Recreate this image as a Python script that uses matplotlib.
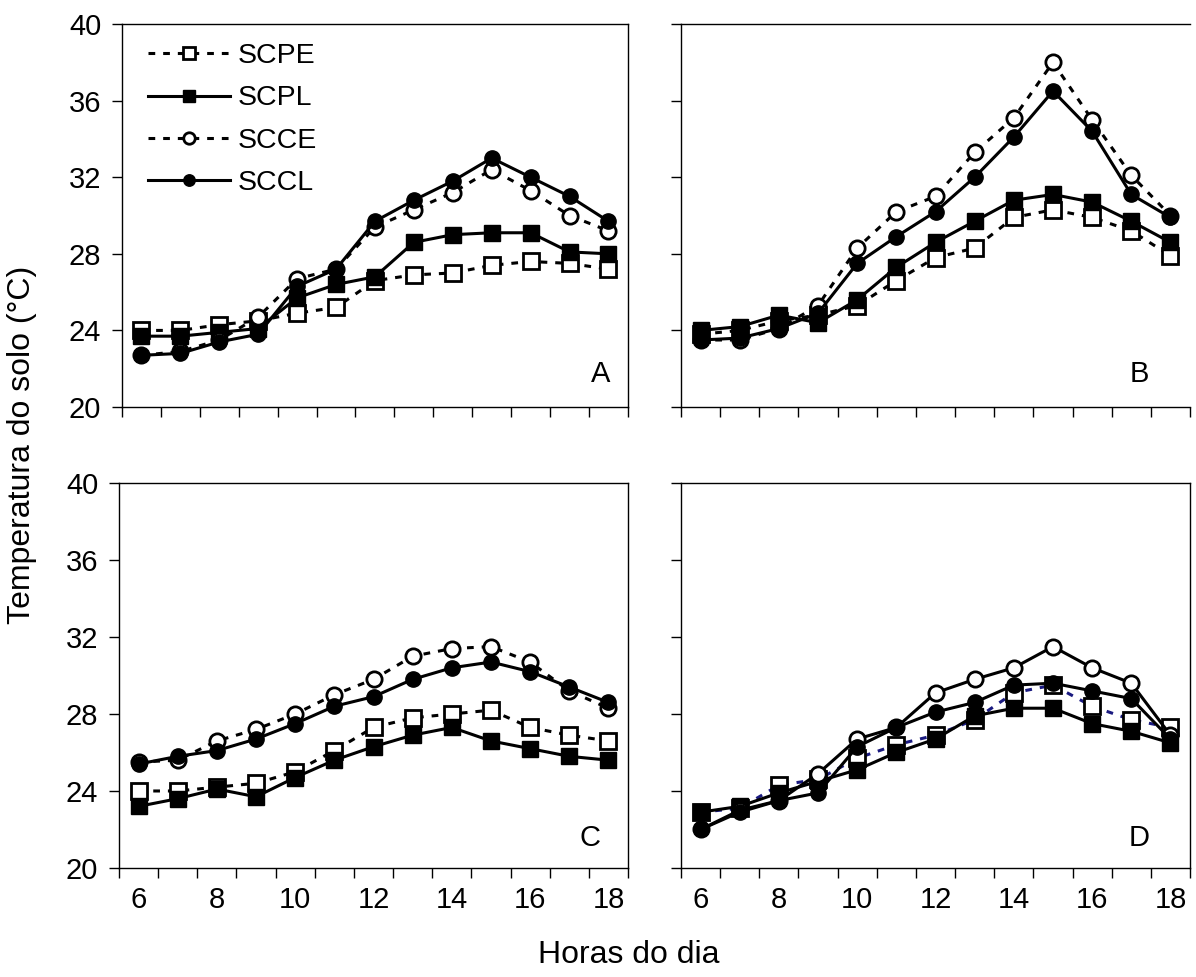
import matplotlib
matplotlib.use("Agg")
import matplotlib.pyplot as plt

plt.rcParams['font.family'] = ['Liberation Sans', 'DejaVu Sans']

horas = [6, 7, 8, 9, 10, 11, 12, 13, 14, 15, 16, 17, 18]
series_names = ["SCPE", "SCPL", "SCCE", "SCCL"]
panel_labels = ["A", "B", "C", "D"]

# panel A
a_scpe = [24.0, 24.0, 24.3, 24.5, 24.9, 25.2, 26.6, 26.9, 27.0, 27.4, 27.6, 27.5, 27.2]
a_scpl = [23.7, 23.7, 23.9, 24.1, 25.7, 26.4, 26.8, 28.6, 29.0, 29.1, 29.1, 28.1, 28.0]
a_scce = [22.7, 22.9, 23.5, 24.7, 26.7, 27.2, 29.4, 30.3, 31.2, 32.4, 31.3, 30.0, 29.2]
a_sccl = [22.7, 22.8, 23.4, 23.8, 26.3, 27.2, 29.7, 30.8, 31.8, 33.0, 32.0, 31.0, 29.7]

# panel B
b_scpe = [23.8, 24.0, 24.5, 24.8, 25.3, 26.6, 27.8, 28.3, 29.9, 30.3, 29.9, 29.2, 27.9]
b_scpl = [24.0, 24.2, 24.8, 24.4, 25.6, 27.3, 28.6, 29.7, 30.8, 31.1, 30.7, 29.7, 28.6]
b_scce = [23.5, 23.5, 24.1, 25.3, 28.3, 30.2, 31.0, 33.3, 35.1, 38.0, 35.0, 32.1, 30.0]
b_sccl = [23.5, 23.6, 24.1, 24.9, 27.5, 28.9, 30.2, 32.0, 34.1, 36.5, 34.4, 31.1, 29.9]

# panel C
c_scpe = [24.0, 24.0, 24.2, 24.4, 25.0, 26.1, 27.3, 27.8, 28.0, 28.2, 27.3, 26.9, 26.6]
c_scpl = [23.2, 23.6, 24.1, 23.7, 24.7, 25.6, 26.3, 26.9, 27.3, 26.6, 26.2, 25.8, 25.6]
c_scce = [25.5, 25.6, 26.6, 27.2, 28.0, 29.0, 29.8, 31.0, 31.4, 31.5, 30.7, 29.2, 28.3]
c_sccl = [25.4, 25.8, 26.1, 26.7, 27.5, 28.4, 28.9, 29.8, 30.4, 30.7, 30.2, 29.4, 28.6]

# panel D
d_scpe = [22.9, 23.1, 24.3, 24.6, 25.7, 26.4, 26.9, 27.7, 29.1, 29.5, 28.4, 27.7, 27.3]
d_scpl = [22.9, 23.2, 23.9, 24.5, 25.1, 26.0, 26.7, 27.9, 28.3, 28.3, 27.5, 27.1, 26.5]
d_scce = [22.0, 23.0, 23.5, 24.9, 26.7, 27.3, 29.1, 29.8, 30.4, 31.5, 30.4, 29.6, 26.9]
d_sccl = [22.0, 22.9, 23.5, 23.9, 26.3, 27.3, 28.1, 28.6, 29.5, 29.6, 29.2, 28.8, 26.7]

panels = [
    [a_scpe, a_scpl, a_scce, a_sccl],
    [b_scpe, b_scpl, b_scce, b_sccl],
    [c_scpe, c_scpl, c_scce, c_sccl],
    [d_scpe, d_scpl, d_scce, d_sccl],
]

fig = plt.figure(figsize=(11.96, 9.77), dpi=100)
rects = [
    [0.102, 0.5834, 0.423, 0.392],
    [0.5694, 0.5834, 0.4256, 0.392],
    [0.0995, 0.1116, 0.4256, 0.394],
    [0.5694, 0.1116, 0.4256, 0.394],
]
letter_pos = [(0.947, 0.086), (0.90, 0.086), (0.925, 0.078), (0.90, 0.078)]

fs = 21
dash = (2.2, 2.6)
for p, (rect, data) in enumerate(zip(rects, panels)):
    ax = fig.add_axes(rect)
    scpe, scpl, scce, sccl = data
    pe_color = "black" if p < 3 else "#1a1a80"
    ax.plot(horas, scpe, color=pe_color, lw=2.2, linestyle=(0, dash), marker="s", ms=11.5,
            mfc="white", mec="black", mew=2, label="SCPE")
    ax.plot(horas, scpl, color="black", lw=2.2, marker="s", ms=11.5,
            mfc="black", mec="black", label="SCPL")
    ce_style = (0, dash) if p < 3 else "-"
    ax.plot(horas, scce, color="black", lw=2.2, linestyle=ce_style, marker="o", ms=11,
            mfc="white", mec="black", mew=2, label="SCCE")
    ax.plot(horas, sccl, color="black", lw=2.2, marker="o", ms=11,
            mfc="black", mec="black", label="SCCL")

    ax.set_xlim(5.5, 18.5)
    ax.set_ylim(20, 40)
    ax.set_yticks([20, 24, 28, 32, 36, 40])
    ax.set_xticks([h - 0.5 for h in horas] + [18.5])
    ax.set_xticks([6, 8, 10, 12, 14, 16, 18], minor=True)
    ax.tick_params(axis="both", which="major", direction="out", length=7, width=1,
                   labelsize=fs, colors="black", pad=8)
    ax.tick_params(axis="x", which="major", labelbottom=False)
    ax.tick_params(axis="x", which="minor", length=0, labelsize=fs, pad=13)
    if p in (2, 3):
        ax.set_xticklabels(["6", "8", "10", "12", "14", "16", "18"], minor=True)
    else:
        ax.set_xticklabels([], minor=True)
    if p in (1, 3):
        ax.set_yticklabels([])
    for s in ax.spines.values():
        s.set_linewidth(1.0)
    if p == 1:
        ax.spines["right"].set_visible(False)

    ax.text(letter_pos[p][0], letter_pos[p][1], panel_labels[p], transform=ax.transAxes,
            ha="center", va="center", fontsize=fs)

    if p == 0:
        ax.legend(loc="upper left", bbox_to_anchor=(0.023, 0.987), frameon=False, fontsize=20.5,
                  handlelength=2.9, handletextpad=0.25, labelspacing=0.57, markerscale=0.75,
                  borderaxespad=0.1, borderpad=0.4)

fig.text(0.018, 0.5445, "Temperatura do solo (°C)", rotation=90, ha="center", va="center",
         fontsize=23)
fig.text(0.526, 0.0225, "Horas do dia", ha="center", va="center", fontsize=23)

fig.savefig("out.png", dpi=100)
